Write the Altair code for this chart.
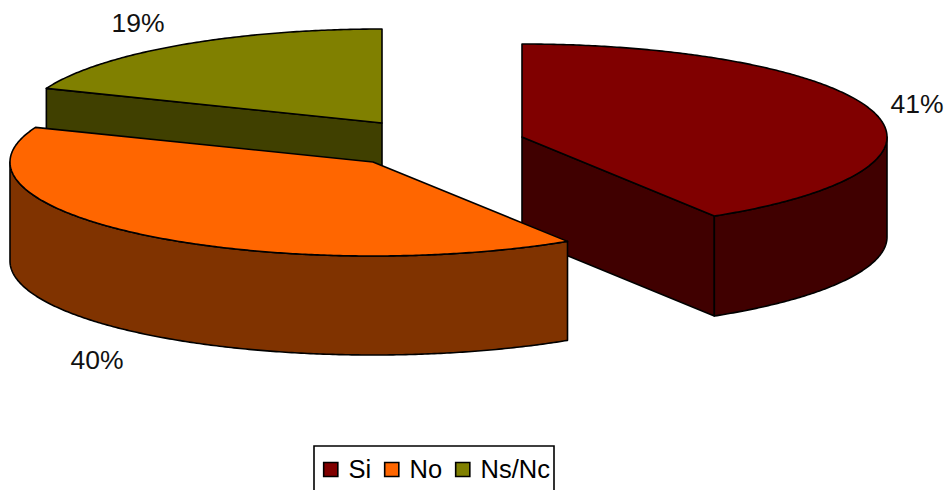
import numpy as np
import pandas as pd
import altair as alt

names = ["Si", "No", "Ns/Nc"]
percents = [41, 40, 19]
top_colors = ["#800000", "#FF6600", "#808000"]
wall_colors = ["#400000", "#803300", "#404000"]

# slice geometry (picture pixels)
centers_x = [522, 373, 382]
centers_y = [137, 162, 123]
radius_x = [365, 363, 361]
radius_y = [93, 94, 94]
depths = [100, 99, 97]
start_deg = [0.0, 147.6, 291.6]
end_deg = [148.2, 291.6, 360.0]

label_x = [917, 97, 138]
label_y = [105, 361, 24]

W, H = 952, 490
FONT = "Liberation Sans"


def pt(i, deg, drop=0.0):
    t = np.radians(deg)
    return (centers_x[i] + radius_x[i] * np.sin(t), centers_y[i] - radius_y[i] * np.cos(t) + drop)


def arc(i, a, b, drop=0.0):
    n = max(2, int(abs(b - a)) * 2)
    return [pt(i, d, drop) for d in np.linspace(a, b, n)]


def poly(points, **extra):
    return pd.DataFrame([
        {"px": p[0], "py": p[1], "k": k, **extra} for k, p in enumerate(points)
    ])


PW, PH = W - 16, H - 8
xs = alt.Scale(domain=[8, 8 + PW], range=[0, PW], nice=False, zero=False)
ys = alt.Scale(domain=[8, 8 + PH], range=[0, PH], nice=False, zero=False)
X = alt.X("px:Q", scale=xs, axis=None)
Y = alt.Y("py:Q", scale=ys, axis=None)
line = dict(stroke="black", strokeWidth=1.6, interpolate="linear-closed", filled=True, strokeJoin="round")


def wall(points, color):
    return alt.Chart(poly(points)).mark_line(fill=color, **line).encode(
        x=X, y=Y, order=alt.Order("k:Q")
    )


apex = lambda i, d=0.0: (centers_x[i], centers_y[i] + d)

layers = []
layers.append(wall([apex(2), pt(2, start_deg[2]), pt(2, start_deg[2], depths[2]), apex(2, depths[2])], wall_colors[2]))
layers.append(wall([apex(0), pt(0, end_deg[0]), pt(0, end_deg[0], depths[0]), apex(0, depths[0])], wall_colors[0]))
layers.append(wall(arc(0, 90, end_deg[0]) + arc(0, end_deg[0], 90, depths[0]), wall_colors[0]))
layers.append(wall(arc(1, start_deg[1], 270) + arc(1, 270, start_deg[1], depths[1]), wall_colors[1]))

frames = []
for i, name in enumerate(names):
    pts = [apex(i)] + arc(i, start_deg[i], end_deg[i])
    frames.append(poly(pts, serie=name))
tops = alt.Chart(pd.concat(frames, ignore_index=True)).mark_line(**line).encode(
    x=X,
    y=Y,
    order=alt.Order("k:Q"),
    fill=alt.Fill(
        "serie:N",
        scale=alt.Scale(domain=names, range=top_colors),
        sort=names,
        legend=alt.Legend(
            title=None,
            orient="none",
            legendX=314 - 8,
            legendY=446 - 8,
            direction="horizontal",
            symbolType="square",
            symbolSize=200,
            symbolStrokeColor="black",
            symbolStrokeWidth=1.6,
            symbolOpacity=1,
            clipHeight=39,
            labelFont=FONT,
            labelFontSize=25.5,
            labelColor="black",
            labelOffset=5,
            labelExpr="datum.label == 'Si' ? 'Si\u00a0\u00a0\u00a0' : datum.label == 'Ns/Nc' ? 'Ns/Nc\u00a0' : datum.label",
            columnPadding=7,
            strokeColor="black",
            padding=4,
            fillColor="white",
        ),
    ),
)
layers.append(tops)

labels = pd.DataFrame({
    "px": label_x,
    "py": label_y,
    "t": [f"{p}%" for p in percents],
})
layers.append(
    alt.Chart(labels).mark_text(font=FONT, fontSize=26.5, color="#111111", baseline="middle", align="center").encode(
        x=X, y=Y, text="t:N"
    )
)

chart = (
    alt.layer(*layers)
    .properties(width=PW, height=PH, padding=0, autosize=alt.AutoSizeParams(type="none"))
    .configure_view(stroke=None)
    .configure_legend(strokeWidth=1.6)
)
chart.save("out.html", embed_options={"renderer": "svg", "actions": False})
